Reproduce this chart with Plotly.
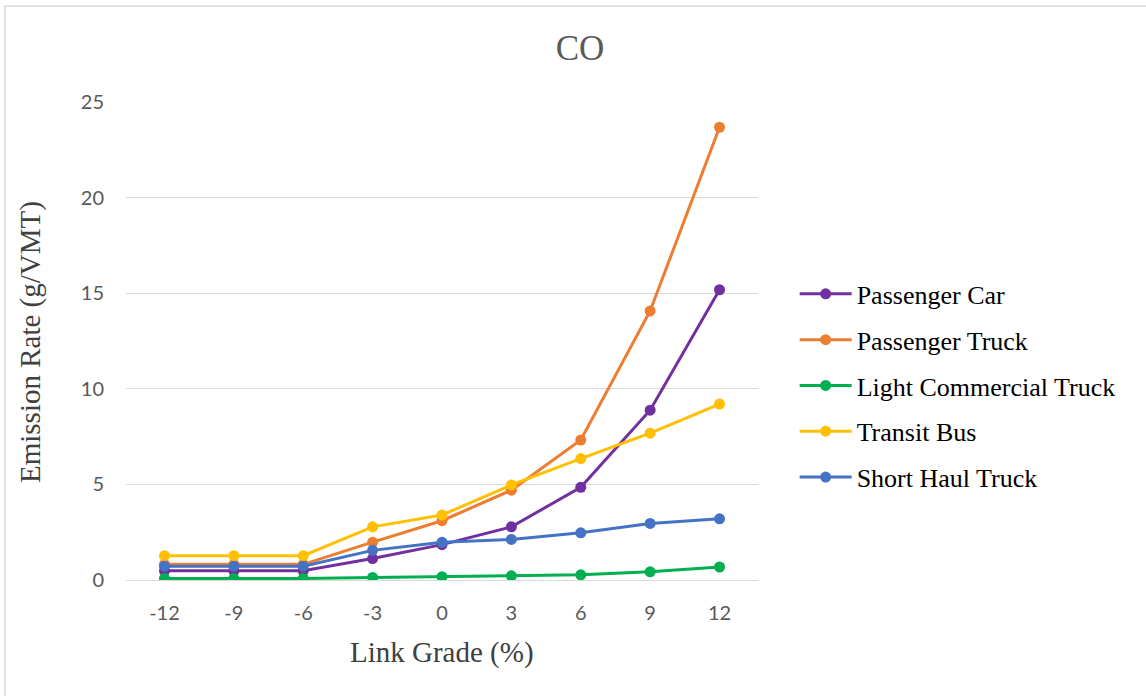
import plotly.graph_objects as go

# Link grade categories (%)
grades = ["-12", "-9", "-6", "-3", "0", "3", "6", "9", "12"]

# CO emission rates (g/VMT) by vehicle type
passenger_car = [0.48, 0.48, 0.48, 1.12, 1.85, 2.78, 4.85, 8.88, 15.18]
passenger_truck = [0.82, 0.82, 0.82, 1.98, 3.10, 4.70, 7.32, 14.07, 23.68]
light_commercial_truck = [0.08, 0.08, 0.08, 0.13, 0.17, 0.22, 0.27, 0.43, 0.68]
transit_bus = [1.27, 1.27, 1.27, 2.78, 3.40, 4.97, 6.35, 7.68, 9.20]
short_haul_truck = [0.72, 0.72, 0.72, 1.55, 1.97, 2.12, 2.47, 2.96, 3.20]

series = [
    ("Passenger Car", passenger_car, "#7030A0"),
    ("Passenger Truck", passenger_truck, "#ED7D31"),
    ("Light Commercial Truck", light_commercial_truck, "#00B050"),
    ("Transit Bus", transit_bus, "#FFC000"),
    ("Short Haul Truck", short_haul_truck, "#4472C4"),
]

fig = go.Figure()
for i, (name, vals, color) in enumerate(series):
    fig.add_trace(go.Scatter(
        x=grades, y=vals, name=name, mode="lines+markers",
        line=dict(color=color, width=3),
        marker=dict(color=color, size=11),
        legendgroup=f"g{i}",
    ))

serif = "Liberation Serif, Times New Roman, serif"
sans = "Lato, Open Sans, sans-serif"

fig.update_layout(
    width=1146, height=696,
    margin=dict(l=126, r=388, t=102, b=116),
    paper_bgcolor="white", plot_bgcolor="white",
    title=dict(text="CO", x=580 / 1146, xref="container", xanchor="center",
               y=1 - 48 / 696, yref="container", yanchor="middle",
               font=dict(family=serif, size=35, color="#595959")),
    showlegend=True,
    legend=dict(x=1.058, xanchor="left", y=0.406, yanchor="middle",
                font=dict(family=serif, size=26, color="#000000"),
                tracegroupgap=9, itemwidth=52,
                bgcolor="rgba(0,0,0,0)"),
    xaxis=dict(type="category", showgrid=False, showline=False, zeroline=False,
               ticks="", ticklabelstandoff=19,
               tickfont=dict(family=sans, size=20, color="#595959")),
    yaxis=dict(range=[0, 25], tickvals=[0, 5, 10, 15, 20, 25],
               showgrid=True, gridcolor="#D9D9D9", gridwidth=1.3,
               zeroline=True, zerolinecolor="#D9D9D9", zerolinewidth=1.3,
               showline=False, ticks="", ticklabelstandoff=21,
               tickfont=dict(family=sans, size=20, color="#595959")),
    annotations=[
        dict(text="Emission Rate (g/VMT)", xref="paper", yref="paper",
             x=(30 - 126) / 632, y=(580 - 342) / 478, xanchor="center",
             yanchor="middle", textangle=-90, showarrow=False,
             font=dict(family=serif, size=29, color="#404040")),
        dict(text="Link Grade (%)", xref="paper", yref="paper",
             x=(442 - 126) / 632, y=(580 - 652) / 478, xanchor="center",
             yanchor="middle", showarrow=False,
             font=dict(family=serif, size=29, color="#404040")),
    ],
    shapes=[
        dict(type="rect", xref="paper", yref="paper",
             x0=(5 - 126) / 632, x1=(1160 - 126) / 632,
             y0=(580 - 710) / 478, y1=(580 - 6) / 478,
             line=dict(color="#D9D9D9", width=1.5), layer="below"),
    ],
)

fig.write_html("out.html")
